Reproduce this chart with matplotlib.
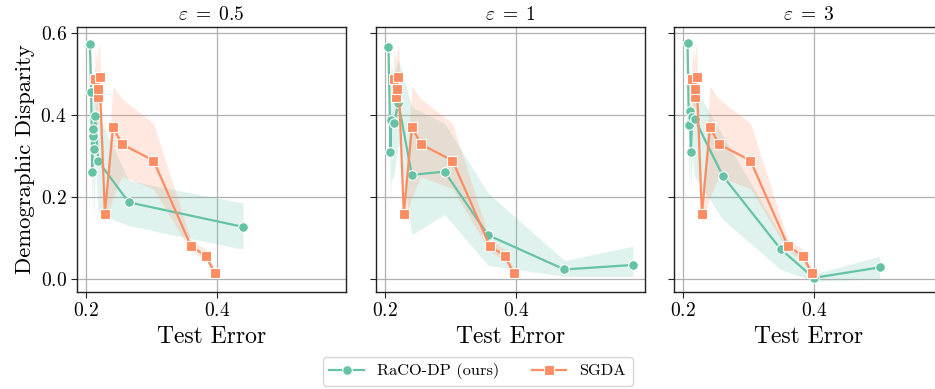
import numpy as np
import matplotlib
matplotlib.use("Agg")
import matplotlib.pyplot as plt

plt.rcParams["font.family"] = "serif"
plt.rcParams["font.serif"] = ["cmr10", "DejaVu Serif"]
plt.rcParams["mathtext.fontset"] = "cm"
plt.rcParams["axes.formatter.use_mathtext"] = True

titles = [r"$\varepsilon\;=\;0.5$", r"$\varepsilon\;=\;1$", r"$\varepsilon\;=\;3$"]

# RaCO-DP (ours), one list per epsilon
raco_x = [
    [0.2056, 0.2076, 0.2092, 0.2100, 0.2102, 0.2117, 0.2137, 0.2183, 0.2650, 0.4397],
    [0.2051, 0.2082, 0.2092, 0.2133, 0.2204, 0.2408, 0.2908, 0.3571, 0.4740, 0.5786],
    [0.2066, 0.2086, 0.2102, 0.2117, 0.2137, 0.2173, 0.2604, 0.3487, 0.3995, 0.5000],
]
raco_y = [
    [0.574, 0.456, 0.262, 0.350, 0.367, 0.316, 0.398, 0.288, 0.187, 0.127],
    [0.567, 0.310, 0.389, 0.380, 0.429, 0.254, 0.262, 0.107, 0.023, 0.034],
    [0.575, 0.375, 0.411, 0.310, 0.395, 0.391, 0.252, 0.073, 0.0024, 0.028],
]
raco_lo = [
    [0.56, 0.40, 0.15, 0.25, 0.28, 0.13, 0.30, 0.16, 0.13, 0.072],
    [0.55, 0.17, 0.24, 0.25, 0.33, 0.108, 0.157, 0.033, 0.006, 0.006],
    [0.56, 0.21, 0.30, 0.22, 0.30, 0.25, 0.145, 0.023, -0.005, 0.0],
]
raco_hi = [
    [0.59, 0.52, 0.38, 0.45, 0.45, 0.50, 0.52, 0.40, 0.24, 0.185],
    [0.58, 0.45, 0.52, 0.50, 0.535, 0.42, 0.38, 0.21, 0.045, 0.08],
    [0.59, 0.50, 0.52, 0.40, 0.48, 0.47, 0.35, 0.11, 0.012, 0.055],
]

# SGDA (same in every panel)
sgda_x = [0.2132, 0.2173, 0.2178, 0.2204, 0.2285, 0.2410, 0.2545, 0.3028, 0.3600, 0.3827, 0.3964]
sgda_y = [0.489, 0.445, 0.464, 0.494, 0.159, 0.371, 0.329, 0.289, 0.0805, 0.056, 0.0146]
sgda_lo = [0.42, 0.36, 0.40, 0.42, 0.135, 0.20, 0.25, 0.22, 0.068, 0.045, 0.005]
sgda_hi = [0.56, 0.53, 0.55, 0.575, 0.18, 0.47, 0.44, 0.38, 0.095, 0.072, 0.025]

green = "#66c2a5"
orange = "#fc8d62"

fig = plt.figure(figsize=(9.35, 3.89), dpi=100)
lefts = [0.0824, 0.4021, 0.7209]
axes = [fig.add_axes([l, 0.2494, 0.2877, 0.681]) for l in lefts]

for i, ax in enumerate(axes):
    ax.fill_between(raco_x[i], raco_lo[i], raco_hi[i], color=green, alpha=0.2, lw=0)
    ax.fill_between(sgda_x, sgda_lo, sgda_hi, color=orange, alpha=0.2, lw=0)
    ax.plot(raco_x[i], raco_y[i], color=green, lw=1.6, marker="o", ms=7,
            mec="white", mew=0.8, label="RaCO-DP (ours)")
    ax.plot(sgda_x, sgda_y, color=orange, lw=1.6, marker="s", ms=7,
            mec="white", mew=0.8, label="SGDA")
    ax.set_xlim(0.186, 0.597)
    ax.set_ylim(-0.032, 0.615)
    ax.set_xticks([0.2, 0.4])
    ax.set_yticks([0.0, 0.2, 0.4, 0.6])
    ax.grid(True, color="#b0b0b0", lw=0.9)
    ax.set_axisbelow(True)
    for s in ax.spines.values():
        s.set_color("#222222")
        s.set_linewidth(1.0)
    ax.tick_params(labelsize=14, length=4, color="#222222")
    ax.set_title(titles[i], fontsize=14, pad=5)
    ax.set_xlabel("Test Error", fontsize=17)
    if i == 0:
        ax.set_ylabel("Demographic Disparity", fontsize=16.3)
    else:
        ax.tick_params(labelleft=False)

handles, labels = axes[0].get_legend_handles_labels()
fig.legend(handles, labels, loc="center", bbox_to_anchor=(0.511, 0.045), ncol=2,
           fontsize=11.8, columnspacing=2.0, handlelength=2.1, frameon=True,
           edgecolor="#cccccc", fancybox=True)

fig.savefig("out.png", dpi=100)
